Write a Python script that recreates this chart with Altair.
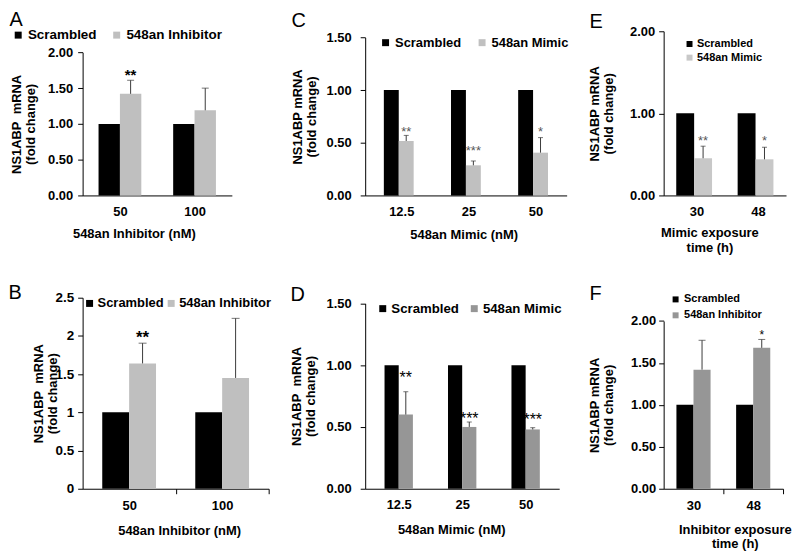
import altair as alt
import pandas as pd

FONT = "Liberation Sans"
YT_A = ["NS1ABP\u00a0 mRNA", "(fold change)"]
YT_B = ["NS1ABP mRNA", "(fold change)"]

# ---------------- data ----------------
a_cats = ["50", "100"]
a_groups = ["Scrambled", "548an Inhibitor"]
a_scrambled = [1.00, 1.00]
a_treated = [1.42, 1.19]
a_err_top = [1.61, 1.50]
a_stars = ["**", ""]
a_star_pos = [1.74, None]
a_yticks = [0, 0.5, 1.0, 1.5, 2.0]

b_cats = ["50", "100"]
b_groups = ["Scrambled", "548an Inhibitor"]
b_scrambled = [1.0, 1.0]
b_treated = [1.64, 1.45]
b_err_top = [1.905, 2.23]
b_stars = ["**", ""]
b_star_pos = [2.04, None]
b_yticks = [0, 0.5, 1.0, 1.5, 2.0, 2.5]

c_cats = ["12.5", "25", "50"]
c_groups = ["Scrambled", "548an Mimic"]
c_scrambled = [1.0, 1.0, 1.0]
c_treated = [0.517, 0.286, 0.406]
c_err_top = [0.57, 0.327, 0.549]
c_stars = ["**", "***", "*"]
c_star_pos = [0.635, 0.45, 0.635]
c_yticks = [0, 0.5, 1.0, 1.5]

d_cats = ["12.5", "25", "50"]
d_groups = ["Scrambled", "548an Mimic"]
d_scrambled = [1.0, 1.0, 1.0]
d_treated = [0.60, 0.50, 0.48]
d_err_top = [0.785, 0.54, 0.494]
d_stars = ["**", "***", "***"]
d_star_pos = [0.93, 0.60, 0.59]
d_yticks = [0, 0.5, 1.0, 1.5]

e_cats = ["30", "48"]
e_groups = ["Scrambled", "548an Mimic"]
e_scrambled = [1.0, 1.0]
e_treated = [0.453, 0.44]
e_err_top = [0.60, 0.587]
e_stars = ["**", "*"]
e_star_pos = [0.71, 0.71]
e_yticks = [0, 1.0, 2.0]

f_cats = ["30", "48"]
f_groups = ["Scrambled", "548an Inhibitor"]
f_scrambled = [1.0, 1.0]
f_treated = [1.42, 1.68]
f_err_top = [1.77, 1.78]
f_stars = ["", "*"]
f_star_pos = [None, 1.87]
f_yticks = [0, 0.5, 1.0, 1.5, 2.0]


def make_frame(cats, groups, scr, trt, err, stars, star_pos):
    rows = []
    for i, c in enumerate(cats):
        rows.append({"cat": c, "group": groups[0], "value": scr[i],
                     "err": None, "star": "", "star_y": None})
        rows.append({"cat": c, "group": groups[1], "value": trt[i],
                     "err": err[i], "star": stars[i], "star_y": star_pos[i]})
    return pd.DataFrame(rows)


def panel(letter, df, cats, groups, yticks, s):
    xaxis = alt.Axis(
        title=s["xtitle"], labelAngle=0, labelFont=FONT, labelFontSize=13,
        labelFontWeight="bold", labelColor="black", labelPadding=s["xlab_pad"],
        labelOffset=s["xlab_off"], ticks=s["xticks"],
        tickSize=5 if s["xticks"] else 0, tickOffset=s["tick_off"],
        tickColor="black", domainColor="black", domainWidth=1,
        titleFont=FONT, titleFontSize=13, titleFontWeight="bold",
        titleColor="black", titleX=s["xtitle_x"], titleY=s["xtitle_y"],
        titleAlign="center", titleBaseline="middle", titleLineHeight=15,
    )
    x = alt.X("cat:N", sort=cats, scale=alt.Scale(**s["xscale"]), axis=xaxis)
    xo = alt.XOffset("group:N", sort=groups,
                     scale=alt.Scale(domain=groups, paddingInner=0, paddingOuter=0))
    yaxis = alt.Axis(
        values=yticks, format=s["yfmt"], title=s["ytitle"], labelFont=FONT,
        labelFontSize=s.get("ylab_fs", 13), labelFontWeight="bold",
        labelColor="black", labelPadding=s["ylab_pad"], tickSize=5,
        tickColor="black", domainColor="black", grid=False,
        titleFont=FONT, titleFontSize=13, titleFontWeight="bold",
        titleColor="black", titleAngle=270, titleX=s["ytitle_x"],
        titleAlign="center", titleBaseline="middle", titleLineHeight=14,
    )
    yscale = alt.Scale(domain=s["ydom"], range=s["yrange"], nice=False, zero=True)

    def Y(f):
        return alt.Y(f"{f}:Q", scale=yscale, axis=yaxis)

    L = s["legend"]
    leg = alt.Legend(
        title=None, orient="none", legendX=L["x"], legendY=L["y"],
        direction=L["dir"], symbolType="square", symbolSize=L["size"],
        symbolStrokeWidth=0, labelFont=FONT, labelFontSize=L["fs"],
        labelFontWeight="bold", labelColor="black", labelOffset=L["lab_off"],
        columnPadding=L["col_pad"], rowPadding=L["row_pad"], padding=0,
    )
    color = alt.Color("group:N", sort=groups,
                      scale=alt.Scale(domain=groups, range=s["colors"]), legend=leg)

    sh = s["shift"]
    base = alt.Chart(df)
    bars = base.mark_bar(xOffset=sh).encode(x=x, xOffset=xo, y=Y("value"), color=color)
    errb = base.transform_filter("isValid(datum.err)")
    rule = errb.mark_rule(color="#3a3a3a", strokeWidth=1, xOffset=sh).encode(
        x=x, xOffset=xo, y=Y("value"), y2=alt.Y2("err:Q"))
    cap = errb.mark_tick(orient="horizontal", size=s["cap"], thickness=1,
                         color="#3a3a3a", xOffset=sh).encode(x=x, xOffset=xo, y=Y("err"))
    st = s["star"]
    stars = base.transform_filter("datum.star != ''").mark_text(
        font=FONT, fontSize=st["fs"], color=st["color"], fontWeight=st["weight"],
        baseline="alphabetic", align="center", dy=round(0.58 * st["fs"], 1), xOffset=sh,
    ).encode(x=x, xOffset=xo, y=Y("star_y"), text="star:N")

    title = alt.TitleParams(
        text=letter, anchor="start", frame="group", orient="top", font=FONT,
        fontSize=20, fontWeight="normal", color="black", baseline="alphabetic",
        offset=0, dx=s["ldx"], dy=s["ldy"])
    return alt.layer(bars, rule, cap, stars).properties(
        width=s["width"], height=s["height"], title=title)


LD = 2.5  # common letter drop

spec_a = dict(width=150, height=165, ydom=[0, 2], yrange=[165, 21.2], yfmt=".2f",
              colors=["#000000", "#BFBFBF"],
              xscale=dict(paddingInner=0.427, paddingOuter=0.2135), shift=0,
              xticks=False, tick_off=0, xlab_off=0, xlab_pad=10,
              xtitle="548an Inhibitor (nM)", xtitle_x=51.5, xtitle_y=38.5,
              ylab_pad=5, ytitle=YT_A, ytitle_x=-66.5,
              legend=dict(x=-71.5, y=-3.25, dir="horizontal", fs=13.5, size=49,
                          col_pad=13, row_pad=0, lab_off=3),
              cap=7, star=dict(fs=15, color="black", weight="bold"),
              ldx=-73.5, ldy=15.25 + LD)
spec_b = dict(width=187, height=192, ydom=[0, 2.5], yrange=[192, 0], yfmt="~g",
              colors=["#000000", "#BFBFBF"],
              xscale=dict(paddingInner=0.422, paddingOuter=0.211), shift=0,
              xticks=True, tick_off=46.75, xlab_off=-46.75, xlab_pad=6,
              xtitle="548an Inhibitor (nM)", xtitle_x=97, xtitle_y=41.5,
              ylab_pad=4, ylab_fs=13.5, ytitle=YT_A, ytitle_x=-44.5,
              legend=dict(x=0.5, y=-1, dir="horizontal", fs=13, size=49,
                          col_pad=1, row_pad=0, lab_off=1.5),
              cap=8, star=dict(fs=17, color="black", weight="bold"),
              ldx=-74.5, ldy=26.2 + LD)
spec_c = dict(width=202.5, height=165, ydom=[0, 1.5], yrange=[165, 6.2], yfmt=".2f",
              colors=["#000000", "#C0C0C0"],
              xscale=dict(paddingInner=0.556, paddingOuter=0.278), shift=-5,
              xticks=False, tick_off=0, xlab_off=2.5, xlab_pad=10,
              xtitle="548an Mimic (nM)", xtitle_x=99, xtitle_y=39,
              ylab_pad=9, ytitle=YT_B, ytitle_x=-68,
              legend=dict(x=14, y=4.7, dir="horizontal", fs=13, size=49,
                          col_pad=14, row_pad=0, lab_off=3),
              cap=5, star=dict(fs=13, color="#555555", weight="normal"),
              ldx=-74, ldy=13.3 + LD)
spec_d = dict(width=195, height=192, ydom=[0, 1.5], yrange=[192, 5.7], yfmt=".2f",
              colors=["#000000", "#969696"],
              xscale=dict(paddingInner=0.553, paddingOuter=0.305), shift=-6.5,
              xticks=False, tick_off=0, xlab_off=0, xlab_pad=10,
              xtitle="548an Mimic (nM)", xtitle_x=86.5, xtitle_y=41,
              ylab_pad=9, ytitle=YT_A, ytitle_x=-69,
              legend=dict(x=11, y=4.3, dir="horizontal", fs=13.3, size=49,
                          col_pad=8, row_pad=0, lab_off=2),
              cap=5, star=dict(fs=16, color="black", weight="normal"),
              ldx=-75, ldy=21 + LD)
spec_e = dict(width=123, height=165, ydom=[0, 2], yrange=[165, 0], yfmt=".2f",
              colors=["#000000", "#C8C8C8"],
              xscale=dict(paddingInner=0.417, paddingOuter=0.205), shift=3.4,
              xticks=False, tick_off=0, xlab_off=2.4, xlab_pad=10,
              xtitle=["Mimic exposure", "time (h)"], xtitle_x=46, xtitle_y=37,
              ylab_pad=4, ytitle=YT_B, ytitle_x=-69,
              legend=dict(x=20.5, y=7.3, dir="vertical", fs=11, size=36,
                          col_pad=0, row_pad=1.7, lab_off=2),
              cap=5, star=dict(fs=13, color="#555555", weight="normal"),
              ldx=-74.5, ldy=20 + LD)
spec_f = dict(width=120, height=192, ydom=[0, 2], yrange=[192, 23.4], yfmt=".2f",
              colors=["#000000", "#969696"],
              xscale=dict(paddingInner=0.428, paddingOuter=0.214), shift=1,
              xticks=True, tick_off=30, xlab_off=-30, xlab_pad=6,
              xtitle=["Inhibitor exposure", "time (h)"], xtitle_x=71.5, xtitle_y=40.5,
              ylab_pad=3, ytitle=YT_B, ytitle_x=-69,
              legend=dict(x=6.5, y=-3.8, dir="vertical", fs=11, size=36,
                          col_pad=0, row_pad=4, lab_off=3),
              cap=7, star=dict(fs=12, color="black", weight="normal"),
              ldx=-74.5, ldy=23.5 + LD)

pA = panel("A", make_frame(a_cats, a_groups, a_scrambled, a_treated, a_err_top, a_stars, a_star_pos),
           a_cats, a_groups, a_yticks, spec_a)
pB = panel("B", make_frame(b_cats, b_groups, b_scrambled, b_treated, b_err_top, b_stars, b_star_pos),
           b_cats, b_groups, b_yticks, spec_b)
pC = panel("C", make_frame(c_cats, c_groups, c_scrambled, c_treated, c_err_top, c_stars, c_star_pos),
           c_cats, c_groups, c_yticks, spec_c)
pD = panel("D", make_frame(d_cats, d_groups, d_scrambled, d_treated, d_err_top, d_stars, d_star_pos),
           d_cats, d_groups, d_yticks, spec_d)
pE = panel("E", make_frame(e_cats, e_groups, e_scrambled, e_treated, e_err_top, e_stars, e_star_pos),
           e_cats, e_groups, e_yticks, spec_e)
pF = panel("F", make_frame(f_cats, f_groups, f_scrambled, f_treated, f_err_top, f_stars, f_star_pos),
           f_cats, f_groups, f_yticks, spec_f)

chart = alt.concat(pA, pC, pE, pB, pD, pF, columns=3,
                   spacing={"row": 102.8, "column": 97},
                   bounds="flush", align="each")
chart = chart.resolve_scale(x="independent", y="independent",
                            color="independent", xOffset="independent")
chart = chart.resolve_axis(x="independent", y="independent")
chart = chart.resolve_legend(color="independent")
chart = chart.properties(padding={"left": 0, "top": 0, "right": 0, "bottom": 0},
                         background="white").configure_view(stroke=None)

chart.save("out.html", embed_options={"renderer": "svg", "actions": False})
